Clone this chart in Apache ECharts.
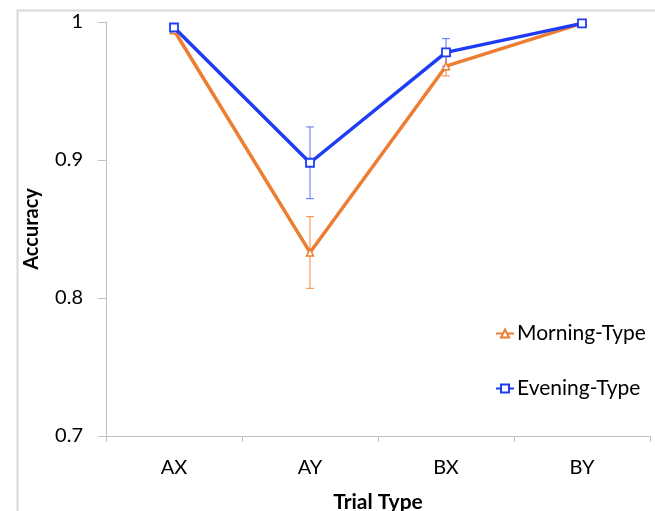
<!DOCTYPE html>
<html><head><meta charset="utf-8">
<script src="https://cdn.jsdelivr.net/npm/echarts@6/dist/echarts.min.js"></script>
<style>html,body{margin:0;padding:0;background:#fff}#c{width:655px;height:511px}</style>
</head><body><div id="c"></div>
<script>
const categories = ['AX', 'AY', 'BX', 'BY'];
const morningValues = [0.994, 0.833, 0.968, 0.999];
const morningErrors = [0.002, 0.026, 0.007, 0.001];
const eveningValues = [0.996, 0.898, 0.978, 0.999];
const eveningErrors = [0.002, 0.026, 0.010, 0.001];
const yTicks = [0.7, 0.8, 0.9, 1];

const FONT = 'Lato, "Open Sans", sans-serif';
const ORANGE = '#ed7d31';
const BLUE = '#1f3cf5';

function errData(vals, errs) {
  return vals.map((v, i) => [i, v - errs[i], v + errs[i]]);
}
function errSeries(name, vals, errs, color) {
  return {
    type: 'custom', name: name + ' err', z: 1, silent: true,
    data: errData(vals, errs),
    encode: { x: 0, y: [1, 2] },
    renderItem: function (params, api) {
      const x = api.value(0);
      const lo = api.coord([x, api.value(1)]);
      const hi = api.coord([x, api.value(2)]);
      const w = 4;
      const st = { stroke: color, lineWidth: 1.2 };
      return { type: 'group', children: [
        { type: 'line', shape: { x1: lo[0], y1: lo[1], x2: hi[0], y2: hi[1] }, style: st },
        { type: 'line', shape: { x1: lo[0] - w, y1: lo[1], x2: lo[0] + w, y2: lo[1] }, style: st },
        { type: 'line', shape: { x1: hi[0] - w, y1: hi[1], x2: hi[0] + w, y2: hi[1] }, style: st }
      ]};
    }
  };
}

const chart = echarts.init(document.getElementById('c'), null, { renderer: 'canvas' });
chart.setOption({
  animation: false,
  backgroundColor: '#fff',
  graphic: [{
    type: 'rect', left: 15, top: 8, shape: { width: 700, height: 600 },
    style: { fill: 'none', stroke: '#d9d9d9', lineWidth: 2 }, z: -10
  }],
  grid: { left: 106, right: 5, top: 22, bottom: 75, containLabel: false, outerBoundsMode: 'none' },
  legend: {
    orient: 'vertical', left: 490, top: 318, itemGap: 34,
    itemWidth: 18, itemHeight: 10,
    data: ['Morning-Type', 'Evening-Type'],
    textStyle: { fontFamily: FONT, fontSize: 21, color: '#000', padding: [0, 0, 0, -2] }
  },
  xAxis: {
    type: 'category', data: categories,
    name: 'Trial Type', nameLocation: 'middle', nameGap: 56,
    nameTextStyle: { fontFamily: FONT, fontSize: 21, fontWeight: 'bold', color: '#000' },
    axisLine: { lineStyle: { color: '#bfbfbf', width: 1 } },
    axisTick: { show: true, alignWithLabel: false, length: 6, lineStyle: { color: '#bfbfbf' } },
    axisLabel: { fontFamily: FONT, fontSize: 20, color: '#000', margin: 22 }
  },
  yAxis: {
    type: 'value', min: 0.7, max: 1, interval: 0.1,
    name: 'Accuracy', nameLocation: 'middle', nameGap: 64, nameRotate: 90,
    nameTextStyle: { fontFamily: FONT, fontSize: 20, fontWeight: 'bold', color: '#000' },
    splitLine: { show: false },
    axisLine: { show: true, lineStyle: { color: '#bfbfbf', width: 1 } },
    axisTick: { show: true, length: 8, lineStyle: { color: '#bfbfbf' } },
    axisLabel: {
      fontFamily: FONT, fontSize: 20, color: '#000', margin: 23,
      formatter: v => { const t = yTicks.find(k => Math.abs(k - v) < 1e-9); return t === undefined ? '' : String(t); }
    }
  },
  series: [
    errSeries('Morning-Type', morningValues, morningErrors, 'rgba(237,125,49,0.75)'),
    errSeries('Evening-Type', eveningValues, eveningErrors, 'rgba(31,60,245,0.6)'),
    {
      name: 'Morning-Type', type: 'line', data: morningValues, z: 3,
      symbol: 'triangle', symbolSize: 7, showAllSymbol: true,
      lineStyle: { color: ORANGE, width: 3.5 },
      itemStyle: { color: '#fff', borderColor: ORANGE, borderWidth: 1.5 }
    },
    {
      name: 'Evening-Type', type: 'line', data: eveningValues, z: 4,
      symbol: 'rect', symbolSize: 8, showAllSymbol: true,
      lineStyle: { color: BLUE, width: 3.5 },
      itemStyle: { color: '#fff', borderColor: BLUE, borderWidth: 1.8 }
    }
  ]
});
</script></body></html>
